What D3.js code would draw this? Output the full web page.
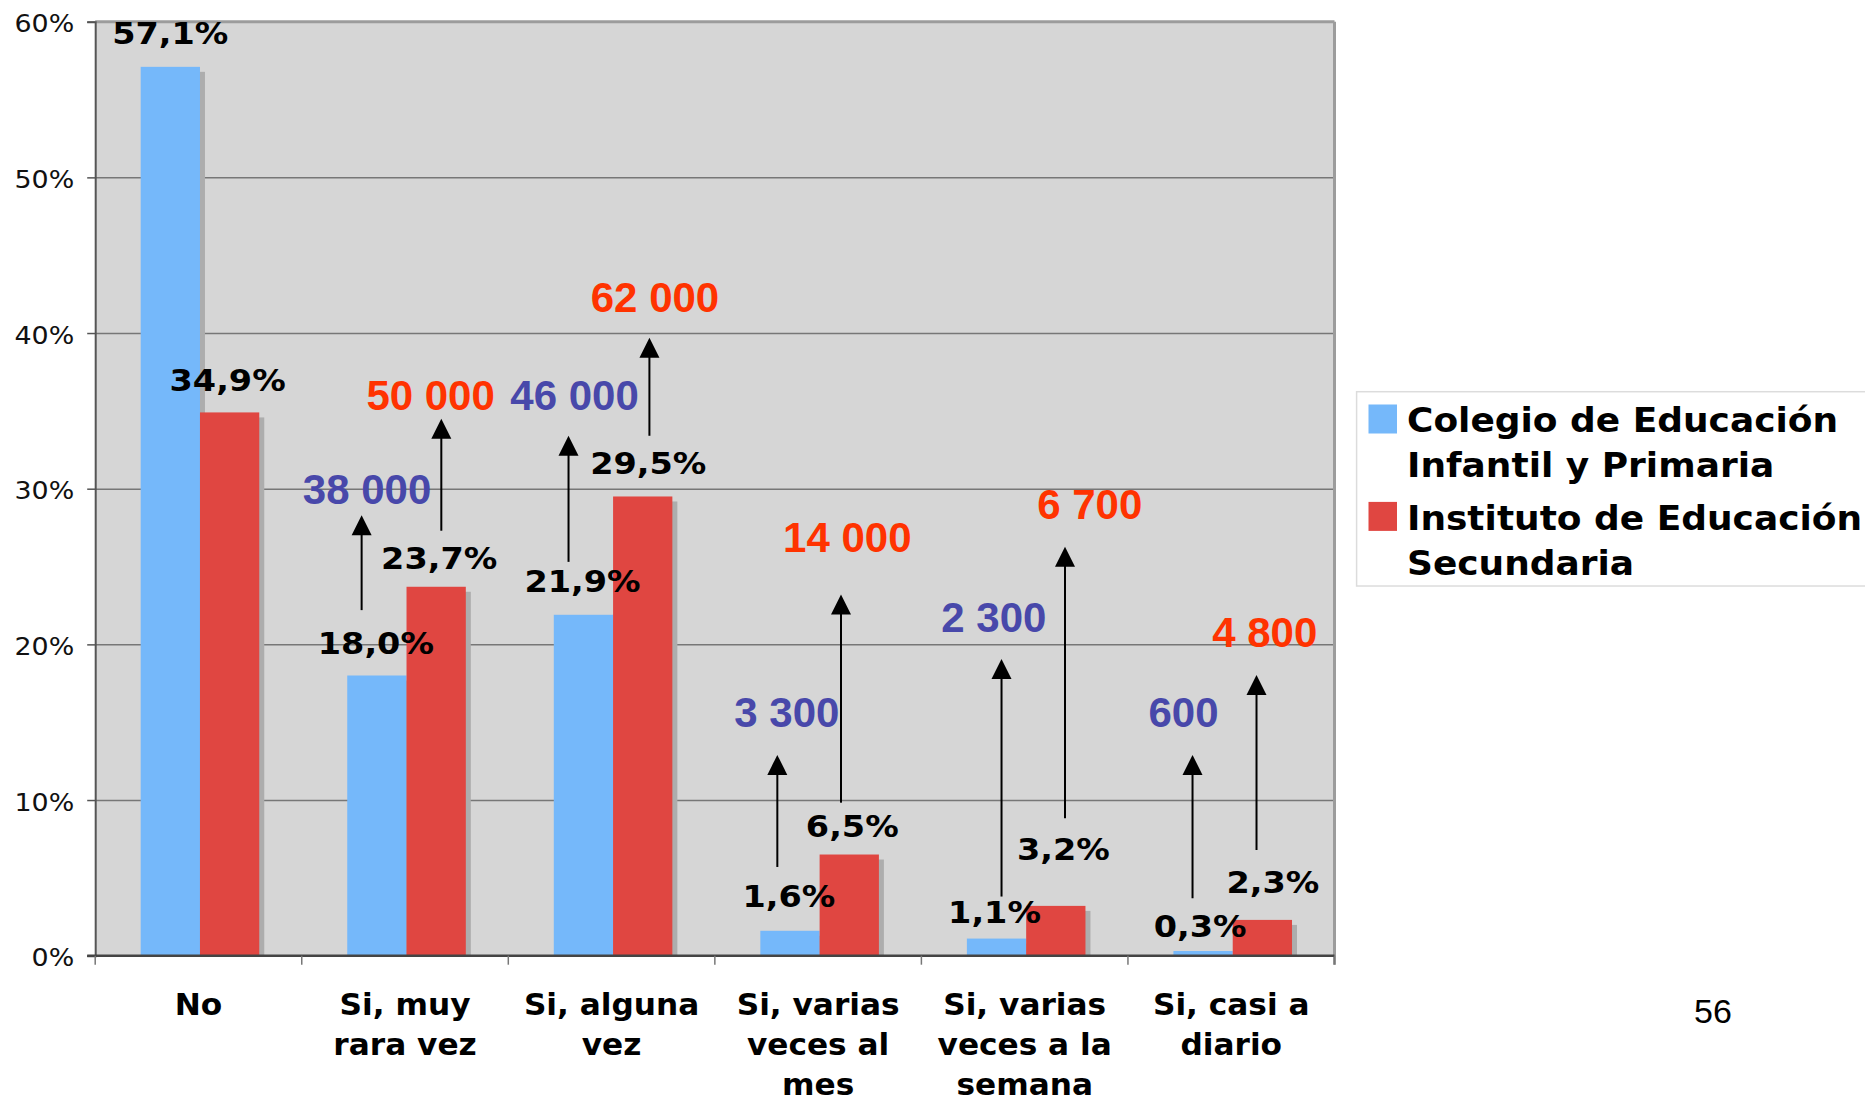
<!DOCTYPE html>
<html><head><meta charset="utf-8">
<script src="https://cdn.jsdelivr.net/npm/d3@7"></script>
<style>html,body{margin:0;padding:0;background:#fff;overflow:hidden}svg{display:block}</style>
</head><body><svg id="c" width="1865" height="1101"></svg>
<script>
// ---------- data ----------
const categories = ["No", "Si, muy\nrara vez", "Si, alguna\nvez", "Si, varias\nveces al\nmes", "Si, varias\nveces a la\nsemana", "Si, casi a\ndiario"];
const seriesNames = ["Colegio de Educación\nInfantil y Primaria", "Instituto de Educación\nSecundaria"];
const colegioPct = [57.1, 18.0, 21.9, 1.6, 1.1, 0.3];
const institutoPct = [34.9, 23.7, 29.5, 6.5, 3.2, 2.3];
const colegioCount = [null, 38000, 46000, 3300, 2300, 600];
const institutoCount = [null, 50000, 62000, 14000, 6700, 4800];
const yTicks = [0, 10, 20, 30, 40, 50, 60];
const pageNumber = "56";

// ---------- annotation layout (hand-placed in the original) ----------
const pctDx = [[0, -2], [-1, 3], [-1, 5.5], [-1, 3], [-2, 7.5], [-3, 10.5]];
const pctDy = [[-22.5, -21], [-21.3, -17.5], [-22.5, -22], [-24, -17.2], [-15.3, -46], [-14.3, -26.6]];
// arrows: [dx px from bar centre, from value, to value]
const arrowBlue = [null, [-15.25, 22.2, 28.3], [-14.9, 25.3, 33.4], [-12.65, 5.7, 12.9], [5, 3.8, 19.06], [-10.55, 3.69, 12.9]];
const arrowRed = [null, [5.15, 27.3, 34.5], [6.7, 33.4, 39.7], [-8.25, 9.83, 23.2], [9.2, 8.83, 26.27], [-5.85, 6.79, 18.03]];
// count labels: [dx px from bar centre, baseline value]
const countPosBlue = [null, [-9.85, 29.02], [-8.9, 35.06], [-3.15, 14.67], [-2.7, 20.81], [-19.55, 14.67]];
const countPosRed = [null, [-5.55, 35.06], [12.3, 41.33], [-1.95, 25.95], [33.9, 28.03], [2.35, 19.85]];

// ---------- setup ----------
const svg = d3.select("#c");
const plot = {left: 95.2, right: 1334.5, top: 21.7, bottom: 955.7};
const colors = ["#75B8FA", "#E04641"];
const countColors = ["#4848AA", "#FF3300"];
const locale = d3.formatLocale({decimal: ",", thousands: "\u00a0", grouping: [3], currency: ["", ""]});
const fmtPct = v => locale.format(".1f")(v) + "%";
const fmtCount = locale.format(",d");

const x0 = d3.scaleBand().domain(d3.range(categories.length)).range([plot.left, plot.right]).padding(0);
const x1 = d3.scaleBand().domain([0, 1]).range([0, x0.bandwidth()]).paddingInner(0).paddingOuter(0.742).align(0.517);
const y = d3.scaleLinear().domain([0, 60]).range([plot.bottom, plot.top]);

const series = [colegioPct, institutoPct];
const counts = [colegioCount, institutoCount];
const arrows = [arrowBlue, arrowRed];
const countPos = [countPosBlue, countPosRed];
const barCenter = (i, s) => x0(i) + x1(s) + x1.bandwidth() / 2;

// background
svg.append("rect").attr("x", plot.left).attr("y", plot.top)
  .attr("width", plot.right - plot.left).attr("height", plot.bottom - plot.top).attr("fill", "#D6D6D6");

// gridlines
svg.append("g").attr("transform", `translate(${plot.left},0)`)
  .call(d3.axisLeft(y).tickValues(yTicks.filter(t => t > 0 && t < 60)).tickSize(-(plot.right - plot.left)).tickFormat(""))
  .call(g => g.select(".domain").remove())
  .call(g => g.selectAll("line").attr("stroke", "#777").attr("stroke-width", 1.5));

// bars (shadow + bar)
const bars = [];
series.forEach((vals, s) => vals.forEach((v, i) => bars.push({s, i, v})));
svg.append("g").selectAll("rect").data(bars).join("rect")
  .attr("x", d => x0(d.i) + x1(d.s) + 5).attr("y", d => y(d.v) + 5)
  .attr("width", x1.bandwidth()).attr("height", d => Math.max(0, plot.bottom - y(d.v) - 5))
  .attr("fill", "#ADADAD");
svg.append("g").selectAll("rect").data(bars).join("rect")
  .attr("x", d => x0(d.i) + x1(d.s)).attr("y", d => y(d.v))
  .attr("width", x1.bandwidth()).attr("height", d => plot.bottom - y(d.v))
  .attr("fill", d => colors[d.s]);

// top & right border
svg.append("line").attr("x1", plot.left).attr("x2", plot.right).attr("y1", plot.top).attr("y2", plot.top)
  .attr("stroke", "#9c9c9c").attr("stroke-width", 3);
svg.append("line").attr("x1", plot.right).attr("x2", plot.right).attr("y1", plot.top).attr("y2", plot.bottom + 9)
  .attr("stroke", "#9c9c9c").attr("stroke-width", 3);

// y axis
svg.append("g").attr("transform", `translate(${plot.left},0)`)
  .call(d3.axisLeft(y).tickValues(yTicks).tickSize(8).tickFormat(d => d + "%"))
  .call(g => g.select(".domain").attr("stroke", "#555").attr("stroke-width", 2))
  .call(g => g.selectAll("line").attr("stroke", "#555").attr("stroke-width", 1.5))
  .call(g => g.selectAll("text").attr("x", null).attr("dy", null)
    .attr("transform", "translate(-21,10) scale(1.12,1)")
    .attr("font-family", "DejaVu Sans").attr("font-size", 24).attr("fill", "#111"));

// x axis baseline + boundary ticks
svg.append("line").attr("x1", plot.left - 8).attr("x2", plot.right).attr("y1", plot.bottom).attr("y2", plot.bottom)
  .attr("stroke", "#444").attr("stroke-width", 2.5);
const bounds = d3.range(categories.length).map(i => x0(i)).concat([x0.range()[1]]);
svg.append("g").selectAll("line").data(bounds).join("line")
  .attr("x1", d => d).attr("x2", d => d).attr("y1", plot.bottom).attr("y2", plot.bottom + 9)
  .attr("stroke", "#777").attr("stroke-width", 1.5);

// category labels
svg.append("g").selectAll("text").data(categories).join("text")
  .attr("transform", (d, i) => `translate(${x0(i) + x0.bandwidth() / 2},1014.5) scale(1.04,1)`)
  .attr("text-anchor", "middle").attr("font-family", "DejaVu Sans").attr("font-weight", "bold")
  .attr("font-size", 30).attr("fill", "#000")
  .each(function (d) {
    d.split("\n").forEach((line, k) => d3.select(this).append("tspan").attr("x", 0).attr("y", k * 40.3).text(line));
  });

// percent labels
svg.append("g").selectAll("text").data(bars).join("text")
  .attr("transform", d => `translate(${barCenter(d.i, d.s) + pctDx[d.i][d.s]},${y(d.v) + pctDy[d.i][d.s]}) scale(1.08,1)`)
  .attr("text-anchor", "middle").attr("font-family", "DejaVu Sans").attr("font-weight", "bold")
  .attr("font-size", 31).attr("fill", "#000").text(d => fmtPct(d.v));

// arrows
const arrowData = [];
arrows.forEach((arr, s) => arr.forEach((a, i) => { if (a) arrowData.push({s, i, dx: a[0], from: a[1], to: a[2]}); }));
const ag = svg.append("g");
ag.selectAll("line").data(arrowData).join("line")
  .attr("x1", d => barCenter(d.i, d.s) + d.dx).attr("x2", d => barCenter(d.i, d.s) + d.dx)
  .attr("y1", d => y(d.from)).attr("y2", d => y(d.to) + 18)
  .attr("stroke", "#000").attr("stroke-width", 2);
ag.selectAll("path").data(arrowData).join("path")
  .attr("d", d => {
    const cx = barCenter(d.i, d.s) + d.dx, ty = y(d.to);
    return `M${cx},${ty} L${cx - 10},${ty + 20} L${cx + 10},${ty + 20} Z`;
  }).attr("fill", "#000");

// count labels
const countData = [];
counts.forEach((arr, s) => arr.forEach((c, i) => { if (c != null) countData.push({s, i, c, dx: countPos[s][i][0], at: countPos[s][i][1]}); }));
svg.append("g").selectAll("text").data(countData).join("text")
  .attr("x", d => barCenter(d.i, d.s) + d.dx).attr("y", d => y(d.at))
  .attr("text-anchor", "middle").attr("font-family", "Liberation Sans").attr("font-weight", "bold")
  .attr("font-size", 42).attr("fill", d => countColors[d.s]).text(d => fmtCount(d.c));

// legend
const lg = svg.append("g");
lg.append("rect").attr("x", 1356.6).attr("y", 391.7).attr("width", 520).attr("height", 194.3)
  .attr("fill", "#fff").attr("stroke", "#dcdcdc").attr("stroke-width", 1.5);
seriesNames.forEach((name, s) => {
  const top = 404.5 + s * 97.4;
  lg.append("rect").attr("x", 1368.5).attr("y", top).attr("width", 28.5).attr("height", 29).attr("fill", colors[s]);
  const t = lg.append("text").attr("transform", `translate(1407,${top + 27.8}) scale(1.09,1)`)
    .attr("font-family", "DejaVu Sans").attr("font-weight", "bold").attr("font-size", 33).attr("fill", "#000");
  name.split("\n").forEach((line, k) => t.append("tspan").attr("x", 0).attr("y", k * 45).text(line));
});

// page number
svg.append("text").attr("x", 1713).attr("y", 1022.7).attr("text-anchor", "middle")
  .attr("font-family", "Liberation Sans").attr("font-size", 34).attr("fill", "#000").text(pageNumber);
</script>
</body></html>
